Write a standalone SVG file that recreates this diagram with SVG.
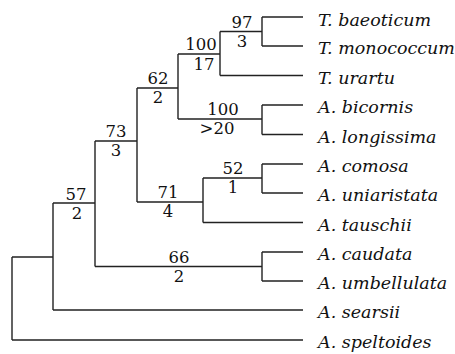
<svg xmlns="http://www.w3.org/2000/svg" width="455" height="354" viewBox="0 0 455 354">
<style>
.e{fill:none;stroke:#222;stroke-width:1.4}
.n{font-family:"DejaVu Serif",serif;font-size:16.5px;fill:#111;text-anchor:middle}
.t{font-family:"DejaVu Serif",serif;font-style:italic;font-size:17.5px;fill:#111}
</style>
<rect width="455" height="354" fill="#fff"/>
<g id="connectors">
<path class="e" d="M220,31.5H262M262,17V46M262,17H303M262,46H303"/>
<path class="e" d="M178,54H220M220,31.5V75.5M220,75.5H303"/>
<path class="e" d="M178,119H262M262,105V134.5M262,105H303M262,134.5H303"/>
<path class="e" d="M137,88H178M178,54V119"/>
<path class="e" d="M203,178H262M262,164V193M262,164H303M262,193H303"/>
<path class="e" d="M137,202H203M203,178V222.5M203,222.5H303"/>
<path class="e" d="M95,141H137M137,88V202"/>
<path class="e" d="M95,266.5H262M262,252V281M262,252H303M262,281H303"/>
<path class="e" d="M53,203H95M95,141V266.5"/>
<path class="e" d="M12,257H53M53,203V310M53,310H303"/>
<path class="e" d="M12,257V340M12,340H303"/>
</g>
<g id="support">
<text class="n" x="242" y="28">97</text><text class="n" x="242" y="46.5">3</text>
<text class="n" x="201" y="50">100</text><text class="n" x="204" y="70">17</text>
<text class="n" x="158" y="84">62</text><text class="n" x="158" y="102.5">2</text>
<text class="n" x="223" y="115">100</text><text class="n" x="217" y="133.5">&gt;20</text>
<text class="n" x="116" y="137">73</text><text class="n" x="116" y="155.5">3</text>
<text class="n" x="233" y="174">52</text><text class="n" x="233" y="192.5">1</text>
<text class="n" x="168" y="198">71</text><text class="n" x="168" y="216.5">4</text>
<text class="n" x="179" y="263">66</text><text class="n" x="179" y="282">2</text>
<text class="n" x="76" y="200">57</text><text class="n" x="77" y="218.5">2</text>
</g>
<g id="taxa">
<text class="t" x="318" y="25.5">T. baeoticum</text>
<text class="t" x="318" y="54">T. monococcum</text>
<text class="t" x="318" y="83.5">T. urartu</text>
<text class="t" x="318" y="113">A. bicornis</text>
<text class="t" x="318" y="142.5">A. longissima</text>
<text class="t" x="318" y="172">A. comosa</text>
<text class="t" x="318" y="201">A. uniaristata</text>
<text class="t" x="318" y="230.5">A. tauschii</text>
<text class="t" x="318" y="260">A. caudata</text>
<text class="t" x="318" y="289">A. umbellulata</text>
<text class="t" x="318" y="318">A. searsii</text>
<text class="t" x="318" y="348">A. speltoides</text>
</g>
</svg>
